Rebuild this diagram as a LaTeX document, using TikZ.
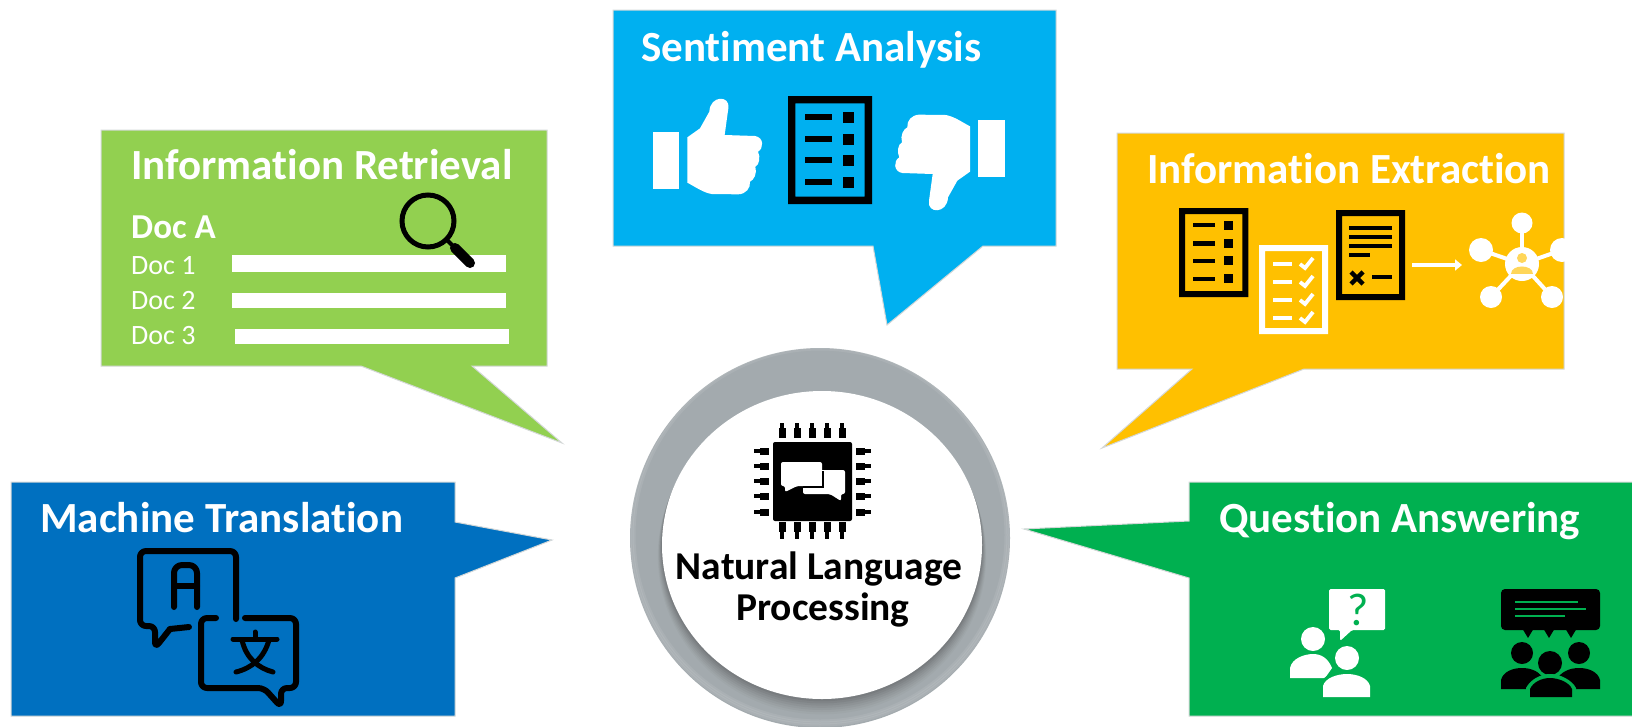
\documentclass[tikz,border=0pt]{standalone}
\usepackage{fontspec}
\setmainfont[Ligatures=NoCommon,RawFeature={-liga;-clig;-dlig}]{Carlito}
\usetikzlibrary{arrows.meta}
\definecolor{cGreen}{HTML}{92D050}
\definecolor{cSky}{HTML}{00B0F0}
\definecolor{cOrange}{HTML}{FFC000}
\definecolor{cBlue}{HTML}{0070C0}
\definecolor{cDeep}{HTML}{00B050}
\definecolor{cRing}{HTML}{A3AAAE}
\definecolor{cEdge}{HTML}{D4D8D8}
\tikzset{
  callout/.style={draw=cEdge,line width=1pt,line join=miter},
  titletext/.style={anchor=base west,inner sep=0pt,text=white,font=\fontsize{43}{45}\selectfont\bfseries},
  doctext/.style={anchor=base west,inner sep=0pt,text=white,font=\fontsize{28}{30}\selectfont},
  centertext/.style={anchor=base,inner sep=0pt,text=black,font=\fontsize{39.5}{42}\selectfont\bfseries},
  bar/.style={fill=white},
  iconline/.style={line width=6pt,line cap=round,line join=round},
}
\newcommand{\listicon}[4]{%
  \begin{scope}[shift={(#1,#2)},scale=#3]
    \fill[#4,even odd rule] (0,0) rectangle (84,108) (7.3,7.3) rectangle (76.7,100.7);
    \foreach \yy in {21,43,64,86}{
      \fill[#4] (17,\yy-2.6) rectangle (44,\yy+2.6);
      \fill[#4] (55,\yy-5.5) rectangle (66,\yy+5.5);
    }
  \end{scope}}
\newcommand{\thumbhand}{%
  \fill[white] (158,397) rectangle (237,568);
  \fill[white] (262,412) -- (300,385) -- (328,335) .. controls (330,285) and (392,285) .. (385,325) -- (374,405) -- (465,408)
    .. controls (492,412) and (492,445) .. (474,455) .. controls (482,470) and (478,495) .. (466,500)
    .. controls (472,520) and (462,540) .. (450,545) .. controls (452,565) and (437,582) .. (415,583)
    -- (335,582) .. controls (310,578) and (285,560) .. (262,548) -- cycle;}
\begin{document}
\begin{tikzpicture}[x=1pt,y=-1pt]
\useasboundingbox (0,0) rectangle (1632,726.5);
\fill[white] (0,0) rectangle (1632,726.5);

% ---------- callouts
\path[callout,fill=cGreen] (101,130) -- (547,130) -- (547,366) -- (472,366) -- (562,443) -- (361,366) -- (101,366) -- cycle;
\path[callout,fill=cSky] (613,10) -- (1056,10) -- (1056,246) -- (983,246) -- (887,325) -- (873,246) -- (613,246) -- cycle;
\path[callout,fill=cOrange] (1117,133) -- (1564,133) -- (1564,369) -- (1304,369) -- (1102,448) -- (1192,369) -- (1117,369) -- cycle;
\path[callout,fill=cBlue] (11,482) -- (455,482) -- (455,522) -- (552,540) -- (455,578) -- (455,716) -- (11,716) -- cycle;
\path[callout,fill=cDeep] (1640,482) -- (1189,482) -- (1189,521) -- (1024,529) -- (1189,578) -- (1189,716) -- (1640,716) -- cycle;

% ---------- central circle
\begin{scope}
  \clip (0,0) rectangle (1632,726.5);
  \fill[cRing] (820,538) circle[radius=190];
  \clip (820,538) circle[radius=190];
  \foreach \rr/\op in {190/.08,188/.08,186/.08}{
    \draw[white,opacity=\op,line width=3pt] (820,535) circle[radius=\rr];
  }
\end{scope}
\foreach \dd/\op in {14/.025,12/.03,10/.035,8/.04,6/.045,4/.05,2/.06}{
  \fill[black,opacity=\op] (822,545+\dd*.8) ellipse[x radius=160+\dd*.3,y radius=154+\dd*.3];
}
\fill[white] (822,545) ellipse[x radius=160,y radius=154];

% chip
\fill[black,rounded corners=2pt] (773,442) rectangle (852,521);
\foreach \xx in {782,797,812,827,842}{
  \fill[black] (\xx-1.7,423) rectangle (\xx+1.7,430);
  \fill[black] (\xx-3.5,428) rectangle (\xx+3.5,438);
  \fill[black] (\xx-3.5,522) rectangle (\xx+3.5,532);
  \fill[black] (\xx-1.7,531) rectangle (\xx+1.7,539);
}
\foreach \yy in {451,466,481,496,512}{
  \fill[black] (754,\yy-1.7) rectangle (762,\yy+1.7);
  \fill[black] (760,\yy-3.5) rectangle (769,\yy+3.5);
  \fill[black] (856,\yy-3.5) rectangle (865,\yy+3.5);
  \fill[black] (863,\yy-1.7) rectangle (871,\yy+1.7);
}
\fill[white,rounded corners=2pt] (803,470) -- (845,470) -- (845,494) -- (841,494) -- (841,501) -- (830,494) -- (803,494) -- cycle;
\fill[white,rounded corners=2pt] (781,462) -- (822,462) -- (822,486) -- (797,486) -- (785,492) -- (785,486) -- (781,486) -- cycle;
\draw[black,line width=1.5pt] (823,471) -- (823,487) -- (803,487);

\node[centertext] (nlpa) at (819,579) {Natural Language};
\node[centertext] (nlpb) at (823,620) {Processing};

% ---------- information retrieval
\node[titletext] (irt) at (131,179) {Information Retrieval};
\node[titletext,font=\fontsize{35}{37}\selectfont\bfseries] (irdoc) at (131,238) {Doc A};
\node[doctext] (d1) at (131,274) {Doc 1};
\node[doctext] (d2) at (131,309) {Doc 2};
\node[doctext] (d3) at (131,344) {Doc 3};
\fill[bar] (232,255) rectangle (506,272);
\fill[bar] (232,293) rectangle (506,308);
\fill[bar] (235,329) rectangle (509,344);
\draw[black,line width=5pt] (428,221) circle[radius=26];
\draw[black,line width=4pt] (446,239) -- (453,246);
\draw[black,line width=10pt,line cap=round] (455,248) -- (470,263);

% ---------- sentiment analysis
\node[titletext] (sat) at (641,61) {Sentiment Analysis};
\begin{scope}[shift={(600,0)},x=.33333pt,y=-.33333pt]
  \thumbhand
  \begin{scope}[rotate around={180:(686,463.5)}]
    \thumbhand
  \end{scope}
\end{scope}
\listicon{788}{96}{1}{black}

% ---------- information extraction
\node[titletext] (iet) at (1147,183) {Information Extraction};
\listicon{1179}{208}{.825}{black}
\fill[white,even odd rule] (1259,245) rectangle (1328,334) (1265,251) rectangle (1322,328);
\foreach \yy in {264,282,300,318}{
  \fill[white] (1273,\yy-2) rectangle (1292,\yy+2);
  \draw[white,line width=3.8pt] (1300,\yy) -- (1305,\yy+4) -- (1313,\yy-6);
}
\fill[black,even odd rule] (1336,210) rectangle (1405,300) (1342,216) rectangle (1399,294);
\foreach \yy in {228,237,246}{\fill[black] (1349,\yy-1.8) rectangle (1392,\yy+1.8);}
\fill[black] (1349,253.2) rectangle (1370,256.8);
\draw[black,line width=4.5pt] (1351,272) -- (1363,284) (1363,272) -- (1351,284);
\fill[black] (1372,275.2) rectangle (1392,278.8);
\coordinate (arrowa) at (1412,265);
\coordinate (arrowb) at (1462,265);
\draw[white,line width=4.5pt,-{Triangle[length=7pt,width=11pt]}] (arrowa) -- (arrowb);
% network
\foreach \xx/\yy/\rr in {1522/223/10.5,1481/250/12,1562/250/12,1491/297/11,1552/297/11}{
  \fill[white] (\xx,\yy) circle[radius=\rr];
  \draw[white,line width=4pt] (1522,264) -- (\xx,\yy);
}
\fill[white] (1522,264) circle[radius=17];
\fill[cOrange!65!white] (1522,258) circle[radius=5];
\fill[cOrange!65!white] (1511,274) .. controls (1511,264) and (1533,264) .. (1533,274) -- cycle;

% ---------- machine translation
\node[titletext] (mtt) at (40,532) {Machine Translation};
\draw[black,iconline,rounded corners=6pt] (236,619) -- (236,551) -- (140,551) -- (140,626) -- (155,626) -- (155,648) -- (170,629);
\draw[black,iconline] (170,629) -- (189,627);
\draw[black,iconline,rounded corners=6pt] (216,618) -- (201,618) -- (201,688) -- (264,688) -- (281,707) -- (281,688) -- (296,688) -- (296,618) -- (245,618);
\draw[black,iconline,rounded corners=8pt] (174,607) -- (174,565) -- (197,565) -- (197,607);
\draw[black,iconline] (174,586) -- (197,586);
\draw[black,line width=5pt,line cap=round] (233,639) -- (277,639);
\draw[black,line width=5pt,line cap=round] (255,632) -- (255,639);
\draw[black,line width=5pt,line cap=round] (269,640) .. controls (264,658) and (252,668) .. (236,672);
\draw[black,line width=5pt,line cap=round] (242,640) .. controls (246,658) and (258,668) .. (273,672);

% ---------- question answering
\node[titletext] (qat) at (1219,532) {Question Answering};
\fill[white,rounded corners=1.5pt] (1329,589) -- (1385,589) -- (1385,630) -- (1352,630) -- (1340,641) -- (1340,630) -- (1329,630) -- cycle;
\node[anchor=base,inner sep=0pt,text=cDeep,font=\fontsize{46}{46}\selectfont] (qm) at (1358,625) {?};
\fill[white] (1313,639) circle[radius=12];
\fill[white] (1290,678) -- (1290,668) .. controls (1292,658) and (1305,654) .. (1313,654) .. controls (1321,654) and (1328,658) .. (1332,668) -- (1325,678) -- cycle;
\fill[cDeep] (1347,658) circle[radius=15];
\fill[white] (1347,658) circle[radius=12];
\fill[cDeep] (1319,698) -- (1319,686) .. controls (1322,676) and (1335,670) .. (1347,670) .. controls (1358,670) and (1372,676) .. (1374,686) -- (1374,698) -- cycle;
\fill[white] (1323,697) -- (1323,686) .. controls (1325,678) and (1337,674) .. (1347,674) .. controls (1357,674) and (1368,678) .. (1370,686) -- (1370,697) -- cycle;

\fill[black,rounded corners=4pt] (1501,589) rectangle (1600,630);
\foreach \xx in {1528,1549,1571}{\fill[black] (\xx-6,628) -- (\xx+6,628) -- (\xx,638) -- cycle;}
\fill[cDeep] (1515,601) rectangle (1578,603);
\fill[cDeep] (1515,608) rectangle (1586,610);
\fill[cDeep] (1515,615) rectangle (1565,617);
\foreach \xx in {1522,1579}{\fill[black] (\xx,653) circle[radius=11];}
\fill[black] (1501,689) -- (1501,680) .. controls (1503,672) and (1512,668) .. (1522,668) .. controls (1532,668) and (1540,672) .. (1545,680) -- (1530,689) -- cycle;
\fill[black] (1600,689) -- (1600,680) .. controls (1598,672) and (1589,668) .. (1579,668) .. controls (1569,668) and (1561,672) .. (1556,680) -- (1571,689) -- cycle;
\fill[cDeep] (1550,663) circle[radius=15];
\fill[black] (1550,663) circle[radius=12];
\fill[cDeep] (1526,700) -- (1526,688) .. controls (1530,680) and (1540,674) .. (1550,674) .. controls (1560,674) and (1572,680) .. (1576,688) -- (1576,700) -- cycle;
\fill[black] (1530,697) -- (1530,689) .. controls (1533,682) and (1542,678) .. (1550,678) .. controls (1558,678) and (1569,682) .. (1572,689) -- (1572,697) -- cycle;
\end{tikzpicture}
\end{document}
